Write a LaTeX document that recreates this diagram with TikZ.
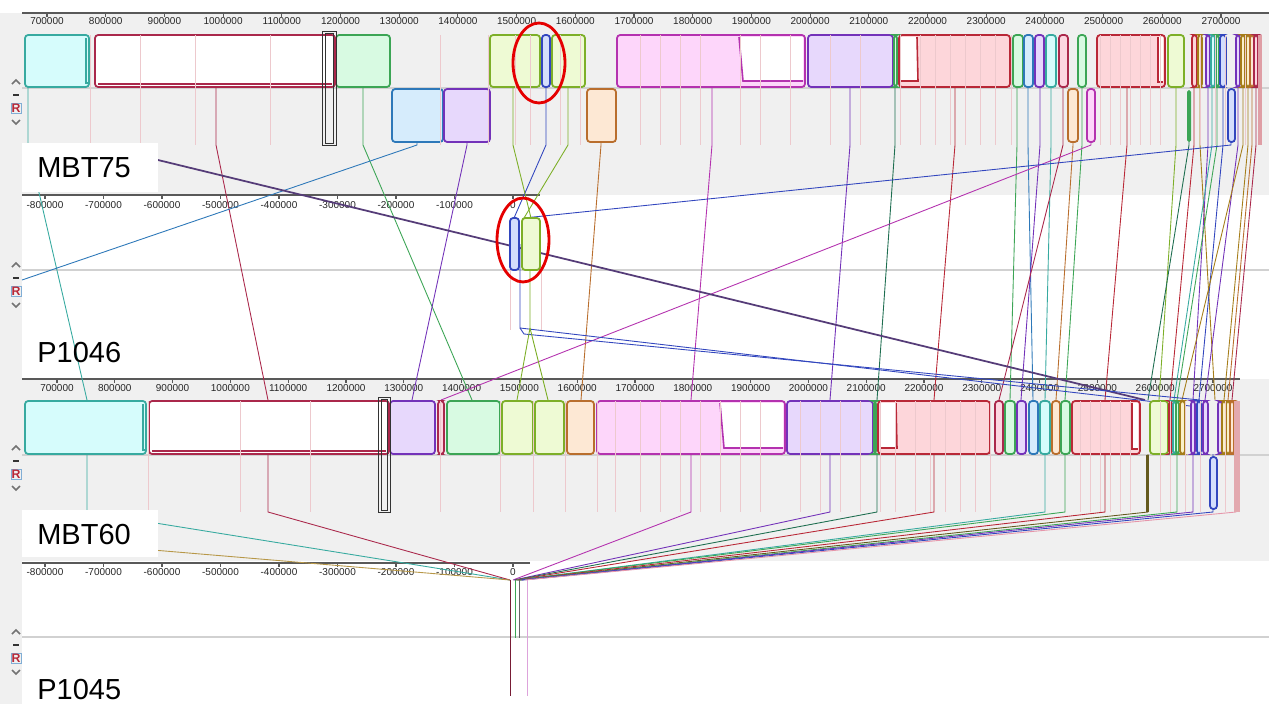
\documentclass[tikz,border=0pt]{standalone}
\usepackage{fontspec}
\setmainfont{Liberation Sans}
\definecolor{mteal}{RGB}{55,170,160}
\definecolor{mcrim}{RGB}{170,40,75}
\definecolor{mgreen}{RGB}{60,165,85}
\definecolor{mdkgreen}{RGB}{30,110,80}
\definecolor{mlime}{RGB}{125,175,40}
\definecolor{mblue}{RGB}{50,70,190}
\definecolor{msky}{RGB}{45,120,185}
\definecolor{morange}{RGB}{185,110,45}
\definecolor{mmag}{RGB}{180,50,175}
\definecolor{mpurp}{RGB}{115,50,185}
\definecolor{mdkpurp}{RGB}{85,60,120}
\definecolor{mred}{RGB}{185,40,55}
\definecolor{mgold}{RGB}{165,125,25}
\definecolor{mdkgold}{RGB}{100,90,30}
\definecolor{mpink}{RGB}{230,150,170}
\definecolor{Fmteal}{RGB}{214,252,252}
\definecolor{Fmcrim}{RGB}{252,214,224}
\definecolor{Fmgreen}{RGB}{216,250,226}
\definecolor{Fmlime}{RGB}{238,250,212}
\definecolor{Fmblue}{RGB}{212,222,252}
\definecolor{Fmsky}{RGB}{214,236,252}
\definecolor{Fmorange}{RGB}{253,232,212}
\definecolor{Fmmag}{RGB}{253,214,250}
\definecolor{Fmpurp}{RGB}{231,216,252}
\definecolor{Fmred}{RGB}{253,214,218}
\definecolor{Fmgold}{RGB}{250,240,200}
\definecolor{panelgrey}{RGB}{240,240,240}
\usetikzlibrary{positioning}

\begin{document}
\begin{tikzpicture}[x=0.02cm, y=-0.02cm,
  blk/.style={draw=#1, fill=F#1, line width=1pt, rounded corners=1.8pt},
  lcb/.style={draw=#1, line width=0.5pt},
  hint/.style={draw=mred!25, line width=0.4pt},
  axis/.style={draw=black!65, line width=0.6pt},
  tck/.style={font=\fontsize{5.7}{6}\selectfont, text=black!85, inner sep=0pt},
  gname/.style={font=\fontsize{16.5}{18}\selectfont, anchor=west, inner sep=0pt},
  ring/.style={draw=red!90!black, line width=1.6pt},
]
\useasboundingbox (0,0) rectangle (1269,704);
\fill[white] (0,0) rectangle (1269,704);
\fill[panelgrey] (0,13) rectangle (1269,195);
\fill[panelgrey] (0,379) rectangle (1269,561);
\fill[panelgrey] (0,195) rectangle (22,379);
\fill[panelgrey] (0,561) rectangle (22,704);

% rulers
\draw[axis] (22,13) -- (1269,13);
\draw[axis] (22,195) -- (540,195);
\draw[axis] (22,379) -- (1240,379);
\draw[axis] (22,563) -- (530,563);
\foreach \k in {0,...,20} {
  \draw[axis] ({47+58.7*\k},13) -- ({47+58.7*\k},17);
  \node[tck] (ra\k) at ({47+58.7*\k},21) {\the\numexpr7+\k\relax00000};
  \draw[axis] ({57+57.8*\k},379) -- ({57+57.8*\k},383);
  \node[tck] (rc\k) at ({57+57.8*\k},388) {\the\numexpr7+\k\relax00000};
}
\foreach \k in {1,...,8} {
  \draw[axis] ({513-58.5*\k},195) -- ({513-58.5*\k},199);
  \node[tck] (rb\k) at ({513-58.5*\k},205) {-\k00000};
  \draw[axis] ({513-58.5*\k},563) -- ({513-58.5*\k},567);
  \node[tck] (rd\k) at ({513-58.5*\k},572) {-\k00000};
}
\draw[axis] (513,195) -- (513,199);
\node[tck] (rb0) at (513,205) {0};
\draw[axis] (513,563) -- (513,567);
\node[tck] (rd0) at (513,572) {0};

% track centre lines
\foreach \yy in {88,270,455,637}
  \draw[black!18, line width=0.8pt] (22,\yy) -- (1269,\yy);

% connectors MBT75 -> MBT60
\foreach \xa/\xb/\cl in {28/87/mteal, 216/268/mcrim, 363/472/mgreen, 712/691/mmag,
    850/830/mpurp, 895/877/mdkgreen, 955/934/mred, 1017/1010/mgreen, 1028/1033/msky,
    1040/1021/mpurp, 1051/1045/mteal, 1063/999/mcrim, 1082/1065/mgreen, 1127/1105/mred,
    1176/1159/mlime, 1194/1170/mred, 1200/1215/mgold, 1208/1193/mpurp, 1212/1174/mteal,
    1217/1177/mgreen, 1223/1199/mblue, 1238/1205/mpurp, 1243/1182/mgold,
    1248/1224/mgold, 1252/1228/morange, 1256/1232/mcrim}
  \draw[lcb=\cl] (\xa,87) -- (\xa,145) -- (\xb,400);
\foreach \xa/\xb/\cl in {467/412/mpurp, 601/581/morange, 1073/1056/morange,
    1091/441/mmag, 1189/1148/mdkgreen}
  \draw[lcb=\cl] (\xa,142) -- (\xa,145) -- (\xb,400);
\draw[lcb=msky] (417,142) -- (417,145) -- (22,280);
\draw[lcb=mdkpurp, line width=1pt] (158,160) -- (1145,400);
% connectors through P1046
\draw[lcb=mblue] (1231,142) -- (1231,145) -- (524,218);
\draw[lcb=mblue] (546,87) -- (546,145) -- (514,218);
\draw[lcb=mlime] (513,87) -- (513,145) -- (531,218);
\draw[lcb=mlime] (568,87) -- (568,145) -- (524,218);
\draw[hint] (510,270) -- (510,330);
\draw[hint] (541,270) -- (541,330);
\draw[lcb=mblue] (520,244) -- (520,328) -- (1190,406);
\draw[lcb=mblue] (520,328) -- (524,334) -- (1200,400);
\draw[lcb=mlime] (530,244) -- (530,328) -- (517,400);
\draw[lcb=mlime] (530,328) -- (548,400);

% connectors MBT60 -> P1045
\foreach \xa/\xb/\cl in {87/510/mteal, 268/510/mcrim, 691/513/mmag, 830/514/mpurp,
    877/515/mdkgreen, 934/516/mred, 1045/517/mteal, 1065/517/mgreen, 1105/518/mred,
    1148/519/mdkgold, 1177/520/mgreen, 1193/521/mpurp, 1213/522/mblue, 1236/525/mpink}
  \draw[lcb=\cl] (\xa,454) -- (\xa,512) -- (\xb,580);
\draw[lcb=mgold!80] (22,539) -- (510,580);
\draw[lcb=mcrim!70!black] (510,580) -- (510,696);
\draw[lcb=mgreen] (515,580) -- (515,638);
\draw[lcb=black!60] (519,580) -- (519,638);
\draw[lcb=mmag!45] (527,580) -- (527,696);

% MBT75 blocks
\foreach \xa/\xb/\cl in {25/89/mteal, 336/390/mgreen, 490/540/mlime, 542/550/mblue,
    552/585/mlime, 617/805/mmag, 808/893/mpurp, 894/897/mgreen, 899/1010/mred,
    1013/1023/mgreen, 1024/1033/msky, 1035/1044/mpurp, 1046/1056/mteal,
    1059/1068/mcrim, 1078/1086/mgreen, 1097/1165/mred, 1168/1184/mlime,
    1192/1197/mred, 1198/1202/mgold, 1206/1210/mpurp, 1211/1215/mteal,
    1216/1219/mgreen, 1220/1226/mblue, 1236/1240/mpurp, 1241/1245/mgold,
    1246/1250/mgold, 1250/1254/morange, 1254/1258/mcrim}
  \draw[blk=\cl] (\xa,35) rectangle (\xb,87);
\draw[blk=mcrim, fill=white] (95,35) rectangle (335,87);
\draw[mcrim, line width=0.7pt] (98,84) -- (332,84);
\draw[mteal, line width=0.8pt] (86,38) -- (86,83) -- (89,83);
\fill[white] (739,37) -- (803,37) -- (803,81) -- (743,81) -- cycle;
\draw[mmag, line width=0.9pt] (739,37) -- (743,81) -- (803,81);
\fill[white] (901,37) -- (917,37) -- (918,81) -- (901,81) -- cycle;
\draw[mred, line width=0.9pt] (917,37) -- (918,81) -- (901,81);
\fill[white] (1158,37) rectangle (1163,82);
\draw[mred, line width=0.9pt] (1158,37) -- (1158,82) -- (1163,82);
\fill[mred!45] (1258,35) rectangle (1262,145);
\foreach \xa/\xb/\cl in {392/443/msky, 444/490/mpurp, 587/616/morange,
    1068/1078/morange, 1087/1095/mmag, 1228/1235/mblue}
  \draw[blk=\cl] (\xa,89) rectangle (\xb,142);
\fill[mgreen, rounded corners=1pt] (1187,90) rectangle (1191,142);

% P1046 blocks
\draw[blk=mblue] (510,218) rectangle (519,270);
\draw[blk=mlime] (522,218) rectangle (540,270);

% MBT60 blocks
\foreach \xa/\xb/\cl in {25/146/mteal, 390/435/mpurp, 438/444/mcrim, 447/500/mgreen,
    502/533/mlime, 535/564/mlime, 567/594/morange, 597/785/mmag, 787/873/mpurp,
    874/876/mgreen, 878/990/mred, 995/1003/mcrim, 1005/1015/mgreen,
    1017/1026/mpurp, 1029/1038/msky, 1040/1050/mteal, 1052/1060/morange,
    1061/1070/mgreen, 1072/1140/mred, 1150/1168/mlime, 1169/1172/mred,
    1173/1176/mteal, 1176/1179/mgreen, 1180/1185/mgold, 1191/1195/mpurp,
    1197/1201/mblue, 1203/1208/mpurp, 1218/1222/mpurp, 1222/1226/mgold,
    1226/1230/mgold, 1230/1234/morange}
  \draw[blk=\cl] (\xa,401) rectangle (\xb,454);
\draw[blk=mcrim, fill=white] (149,401) rectangle (389,454);
\draw[mcrim, line width=0.7pt] (152,451) -- (386,451);
\draw[mteal, line width=0.8pt] (143,404) -- (143,450) -- (146,450);
\fill[white] (720,403) -- (783,403) -- (783,448) -- (724,448) -- cycle;
\draw[mmag, line width=0.9pt] (720,403) -- (724,448) -- (783,448);
\fill[white] (880,403) -- (896,403) -- (897,448) -- (880,448) -- cycle;
\draw[mred, line width=0.9pt] (896,403) -- (897,448) -- (880,448);
\fill[white] (1132,403) rectangle (1138,449);
\draw[mred, line width=0.9pt] (1132,403) -- (1132,449) -- (1138,449);
\fill[mred!40] (1234,401) rectangle (1240,512);
\draw[blk=mblue] (1210,457) rectangle (1217,509);
\fill[mdkgold] (1146,455) rectangle (1149,512);

% faint block edges
\foreach \xx in {90,140,195,270,440,488,515,530,560,580,640,660,680,700,740,760,790,
    830,860,900,920,935,950,965,980,995,1011,1100,1110,1120,1130,1140,1150,1160,
    1200,1215,1225,1245}
  \draw[hint] (\xx,35) -- (\xx,145);
\foreach \xx in {148,240,310,440,500,533,565,597,615,640,660,680,700,720,740,760,
    800,820,840,860,880,895,915,930,945,960,975,990,1080,1090,1100,1110,1120,
    1130,1160,1170,1185,1200,1225}
  \draw[hint] (\xx,401) -- (\xx,512);

\draw[black!80, line width=0.5pt] (322,31) rectangle (336,145);
\draw[black!80, line width=0.4pt] (325,33) rectangle (333,143);
\draw[black!80, line width=0.5pt] (378,397) rectangle (390,512);
\draw[black!80, line width=0.4pt] (381,399) rectangle (387,510);

% genome names
\fill[white] (22,143) rectangle (158,192);
\node[gname] (nMBT75) at (37,168) {MBT75};
\node[gname] (nP1046) at (37,353) {P1046};
\fill[white] (22,510) rectangle (158,557);
\node[gname] (nMBT60) at (37,535) {MBT60};
\node[gname] (nP1045) at (37,690) {P1045};

\draw[ring] (539,63) ellipse [x radius=0.52cm, y radius=0.8cm];
\draw[ring] (523,240) ellipse [x radius=0.52cm, y radius=0.84cm];

% side controls
\foreach \yy in {82,265,448,632} {
  \draw[black!55, line width=0.9pt] (12,\yy+2) -- (16,\yy-2) -- (20,\yy+2);
  \draw[black!80, line width=1.2pt] (13,\yy+13) -- (19,\yy+13);
  \node[draw=msky!60, inner sep=0.4pt, text=mred,
    font=\bfseries\fontsize{7}{7}\selectfont] (ic\yy) at (16,\yy+26) {R};
  \draw[black!55, line width=0.9pt] (12,\yy+38) -- (16,\yy+42) -- (20,\yy+38);
}
\end{tikzpicture}
\end{document}
